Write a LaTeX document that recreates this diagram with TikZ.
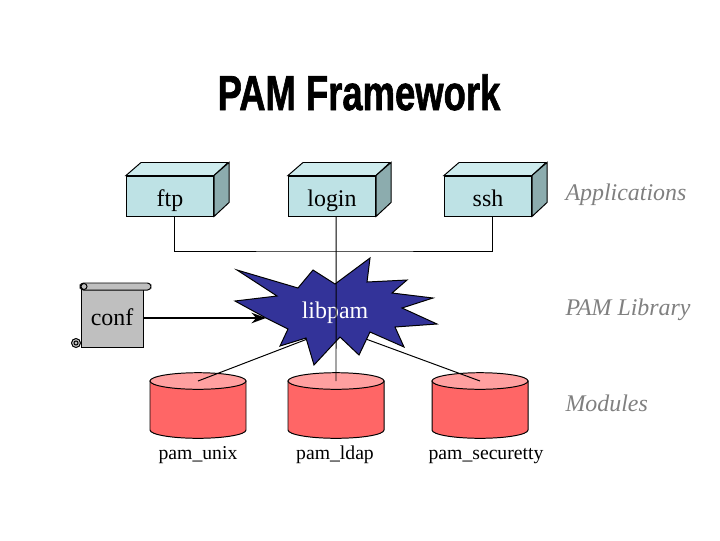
\documentclass[tikz,border=0pt]{standalone}
\usepackage{fontspec}
\usepackage{graphicx}
\setmainfont{Liberation Serif}
\newfontfamily\titlefont[BoldFeatures={FakeBold=1.5}]{Liberation Sans}
\usetikzlibrary{arrows.meta}
\definecolor{appfront}{RGB}{190,226,229}
\definecolor{apptop}{RGB}{206,236,238}
\definecolor{appside}{RGB}{140,172,174}
\definecolor{modbody}{RGB}{255,102,102}
\definecolor{modtop}{RGB}{255,160,160}
\definecolor{pamblue}{RGB}{51,51,153}
\definecolor{layergray}{RGB}{128,128,128}

\begin{document}
\begin{tikzpicture}[x=0.025cm,y=-0.025cm,line width=0.7pt,font=\fontsize{17}{20}\selectfont]
\tikzstyle{app}=[draw,fill=appfront,minimum width=2.175cm,minimum height=1cm,inner sep=0pt,text height=0.53cm,text depth=0pt]
\tikzstyle{modlabel}=[font=\fontsize{14}{16}\selectfont,inner sep=0pt,anchor=base]
\tikzstyle{layer}=[anchor=base west,inner sep=0pt,text=layergray,font=\fontsize{17}{20}\selectfont\itshape]
\tikzstyle{scroll}=[draw,fill=gray!50]
\fill[white] (0,0) rectangle (720,540);

\node (title) at (359,110) [anchor=base] {\fontsize{35}{40}\selectfont\titlefont\bfseries\scalebox{0.74}[1]{PAM Framework}};

% applications
\foreach \n/\x in {ftp/170,login/332,ssh/488} {
  \node[app] (\n) at (\x,196) {\n};
  \filldraw[fill=apptop] (\n.north west) -- ++(15,-13) -- ++(87,0) -- (\n.north east) -- cycle;
  \filldraw[fill=appside] (\n.north east) -- ++(15,-13) -- ++(0,40) -- (\n.south east) -- cycle;
}

% modules
\foreach \n/\x in {unix/198,ldap/336,sec/480} {
  \coordinate (\n) at (\x,381);
  \filldraw[fill=modbody] (\x-48,381) -- (\x-48,430) arc[start angle=180,end angle=0,x radius=48,y radius=8.3] -- (\x+48,381) -- cycle;
  \filldraw[fill=modtop] (\n) ellipse[x radius=48,y radius=8.3];
}
\node[modlabel] (unixlbl) at (198,459) {pam\_unix};
\node[modlabel] (ldaplbl) at (335,459) {pam\_ldap};
\node[modlabel] (seclbl) at (486,459) {pam\_securetty};

% libpam
\coordinate (hub) at (336,328);
\draw (hub) -- (unix) (hub) -- (sec);
\filldraw[fill=pamblue] (237,270) -- (298,288) -- (313,270) -- (335,284) -- (370,258) -- (367,282)
  -- (407,280) -- (392,293) -- (433,298) -- (402,308) -- (437,324) -- (395,327) -- (404,347)
  -- (370,332) -- (359,355) -- (340,337) -- (314,365) -- (306,338) -- (280,346) -- (288,329)
  -- (266,318) -- (235,301) -- (277,296) -- cycle;
\coordinate (burstin) at (266,318);
\node[text=white] (libpam) at (335,313) {libpam};

% bus
\coordinate (bus) at (336,251);
\draw ([xshift=0.1cm]ftp.south) |- (bus) -| ([xshift=0.1cm]ssh.south);
\draw ([xshift=0.1cm]login.south) -- (ldap);

% conf scroll
\node[scroll,minimum width=1.55cm,minimum height=1.5cm,inner sep=0pt] (conf) at (112,317) {conf};
\filldraw[scroll,rounded corners=2.5pt] (80,283) rectangle (151,290);
\filldraw[scroll] (84,286.5) circle[radius=3];
\filldraw[scroll] (76,343) circle[radius=4.5];
\draw (76,343) circle[radius=2];
\draw[line width=1.6pt,-{Stealth[length=3.6mm,width=2.6mm]}] (conf.east |- burstin) -- (burstin);

% layers
\node[layer] (applbl) at (565,200) {Applications};
\node[layer] (liblbl) at (565,315) {PAM Library};
\node[layer] (modlbl) at (565,411) {Modules};
\end{tikzpicture}
\end{document}
